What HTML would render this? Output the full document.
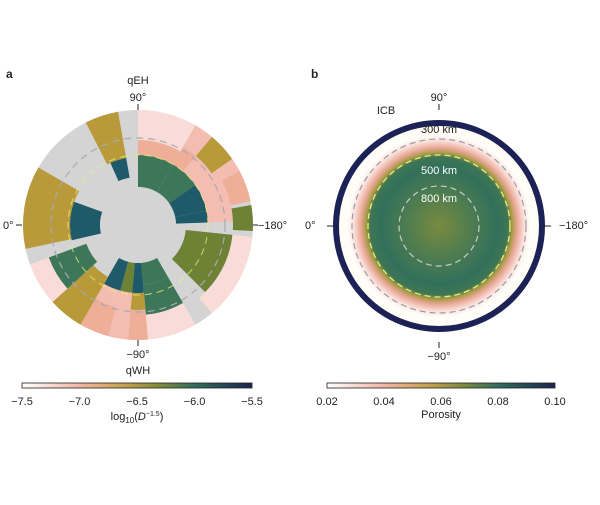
<!DOCTYPE html>
<html><head><meta charset="utf-8"><style>
html,body{margin:0;padding:0;background:#fff;}
body{width:600px;height:500px;overflow:hidden;font-family:"Liberation Sans",sans-serif;}
svg text{font-family:"Liberation Sans",sans-serif;fill:#222;}
</style></head><body>
<svg id="s" width="600" height="500" viewBox="0 0 600 500" xmlns="http://www.w3.org/2000/svg">
<defs>
<linearGradient id="cb" x1="0" x2="1" y1="0" y2="0">
<stop offset="0" stop-color="#ffffff"/>
<stop offset="0.25" stop-color="#f2b5a4"/>
<stop offset="0.45" stop-color="#c6a14a"/>
<stop offset="0.6" stop-color="#7f8a3c"/>
<stop offset="0.75" stop-color="#2f6e5c"/>
<stop offset="1" stop-color="#1c2450"/>
</linearGradient>
<radialGradient id="pb" cx="439" cy="226" r="106" gradientUnits="userSpaceOnUse">
<stop offset="0" stop-color="#7a8a40"/>
<stop offset="0.3" stop-color="#4f7d4f"/>
<stop offset="0.55" stop-color="#32705c"/>
<stop offset="0.65" stop-color="#3e7654"/>
<stop offset="0.69" stop-color="#a89a45"/>
<stop offset="0.74" stop-color="#eaa898"/>
<stop offset="0.81" stop-color="#fbe4de"/>
<stop offset="0.86" stop-color="#fffdf8"/>
<stop offset="1" stop-color="#fffdf5"/>
</radialGradient>
</defs>
<g id="pa"></g>
<text x="6" y="78" font-size="12" style="font-weight:bold">a</text>
<text x="311" y="78" font-size="12" style="font-weight:bold">b</text>
<text x="138" y="84" font-size="11" text-anchor="middle">qEH</text>
<text x="138" y="101" font-size="11" text-anchor="middle">90°</text>
<line x1="138" y1="104" x2="138" y2="110" stroke="#222"/>
<text x="138" y="358" font-size="11" text-anchor="middle">−90°</text>
<text x="138" y="374" font-size="11" text-anchor="middle">qWH</text>
<line x1="138" y1="340" x2="138" y2="346" stroke="#222"/>
<text x="3" y="229" font-size="11">0°</text>
<line x1="16" y1="225" x2="22" y2="225" stroke="#222"/>
<text x="258" y="229" font-size="11">−180°</text>
<line x1="253" y1="225" x2="258" y2="225" stroke="#222"/>
<circle cx="439" cy="226" r="106" fill="url(#pb)"/>
<circle cx="439" cy="226" r="103" fill="none" stroke="#1c2255" stroke-width="6"/>
<circle cx="439" cy="226" r="87" fill="none" stroke="#9a9aa8" stroke-width="1.2" stroke-dasharray="6,4"/>
<circle cx="439" cy="226" r="71" fill="none" stroke="#e8f070" stroke-width="1.3" stroke-dasharray="6,4"/>
<circle cx="439" cy="226" r="40" fill="none" stroke="#c8ccc8" stroke-width="1.2" stroke-dasharray="6,4"/>
<text x="439" y="101" font-size="11" text-anchor="middle">90°</text>
<line x1="439" y1="104" x2="439" y2="110" stroke="#222"/>
<text x="386" y="114" font-size="11" text-anchor="middle">ICB</text>
<text x="439" y="133" font-size="11" text-anchor="middle">300 km</text>
<text x="439" y="174" font-size="11" text-anchor="middle" style="fill:#fff">500 km</text>
<text x="439" y="202" font-size="11" text-anchor="middle" style="fill:#fff">800 km</text>
<text x="305" y="229" font-size="11">0°</text>
<line x1="327" y1="226" x2="333" y2="226" stroke="#222"/>
<text x="559" y="229" font-size="11">−180°</text>
<line x1="545" y1="226" x2="551" y2="226" stroke="#222"/>
<line x1="439" y1="342" x2="439" y2="348" stroke="#222"/>
<text x="439" y="360" font-size="11" text-anchor="middle">−90°</text>
<rect x="22" y="383" width="230" height="5" fill="url(#cb)" stroke="#222" stroke-width="0.8"/>
<g font-size="11" text-anchor="middle">
<text x="22" y="405">−7.5</text><text x="79.5" y="405">−7.0</text><text x="137" y="405">−6.5</text><text x="194.5" y="405">−6.0</text><text x="252" y="405">−5.5</text>
<text x="327" y="405">0.02</text><text x="384" y="405">0.04</text><text x="441" y="405">0.06</text><text x="498" y="405">0.08</text><text x="555" y="405">0.10</text>
<text x="441" y="418">Porosity</text>
</g>
<text x="137" y="420" font-size="11" text-anchor="middle">log<tspan font-size="8" dy="3">10</tspan><tspan dy="-3">(</tspan><tspan font-style="italic">D</tspan><tspan font-size="7" dy="-4">−1.5</tspan><tspan dy="4">)</tspan></text>
<rect x="327" y="383" width="228" height="5" fill="url(#cb)" stroke="#222" stroke-width="0.8"/>
</svg>
<script>
var cx=138,cy=225,G='#d4d4d4',P='#f9dcd8',S='#eeae98',K='#f3bdb2',O='#b89a3a',L='#6e8235',N='#3d7658',T='#1e5a6a';
var secs=[
[0,360,38,115,G],
[0,30,38,70,N],[0,30,70,85,S],[0,30,85,115,P],
[30,55,38,70,N],[30,40,70,90,S],[40,55,70,90,K],[30,40,90,115,K],[40,55,90,115,O],
[55,78,38,70,T],[55,78,70,115,K],[62,78,95,115,S],
[78,88,38,70,T],[78,88,70,95,K],[80,93,95,115,L],
[96,135,48,95,L],[96,140,95,115,P],
[150,175,38,60,N],[150,175,60,90,N],[150,175,90,115,P],
[175,185,38,68,T],[175,185,68,85,O],[175,185,85,115,S],
[185,195,38,68,L],[185,195,68,115,K],[195,210,38,68,T],[195,210,68,85,K],[195,210,85,115,S],
[210,228,60,115,O],[228,250,55,95,N],[228,250,95,115,P],
[257,290,38,68,T],[258,300,68,115,O],
[336,350,48,68,T],[333,350,68,115,O]
];
function pt(b,r){b=b*Math.PI/180;return [cx+r*Math.sin(b),cy-r*Math.cos(b)];}
var h='';
secs.forEach(function(s){var a=s[0],e=s[1],r1=s[2],r2=s[3];
if(e-a>=360){h+='<circle cx="'+cx+'" cy="'+cy+'" r="'+r2+'" fill="'+s[4]+'"/>';return;}
var p1=pt(a,r2),p2=pt(e,r2),p3=pt(e,r1),p4=pt(a,r1),lg=(e-a)>180?1:0;
h+='<path d="M'+p1+' A'+r2+','+r2+' 0 '+lg+' 1 '+p2+' L'+p3+' A'+r1+','+r1+' 0 '+lg+' 0 '+p4+'Z" fill="'+s[4]+'"/>';});
h+='<circle cx="'+cx+'" cy="'+cy+'" r="38" fill="'+G+'"/>';
h+='<circle cx="'+cx+'" cy="'+cy+'" r="87" fill="none" stroke="#a8a8b4" stroke-width="1.2" stroke-dasharray="7,5"/>';
h+='<circle cx="'+cx+'" cy="'+cy+'" r="70" fill="none" stroke="#e8f070" stroke-width="1" stroke-dasharray="7,5" opacity="0.8"/>';
document.getElementById('pa').innerHTML=h;
</script>
</body></html>
